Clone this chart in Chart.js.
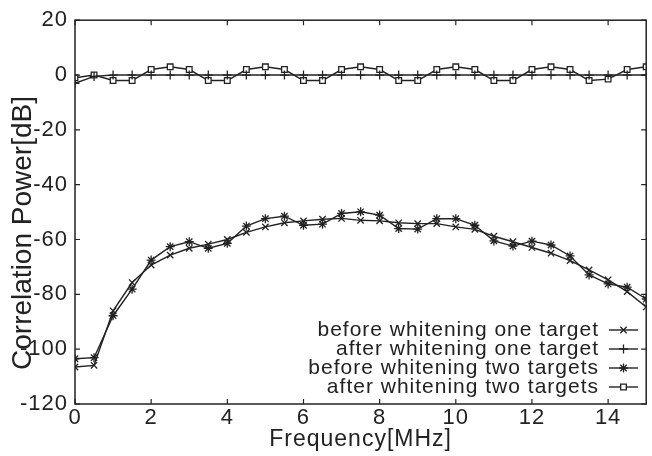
<!DOCTYPE html>
<html><head><meta charset="utf-8">
<script src="https://cdn.jsdelivr.net/npm/chart.js@4.4.1/dist/chart.umd.min.js"></script>
<style>html,body{margin:0;padding:0;background:#fff}#wrap{width:652px;height:456px}</style>
</head><body><div id="wrap"><canvas id="c" width="652" height="456"></canvas></div>
<script>
const freq = [0,0.5,1,1.5,2,2.5,3,3.5,4,4.5,5,5.5,6,6.5,7,7.5,8,8.5,9,9.5,10,10.5,11,11.5,12,12.5,13,13.5,14,14.5,15];
const beforeOne = [-106.5,-105.9,-86.0,-75.7,-69.3,-65.7,-63.2,-61.7,-60.0,-57.4,-55.4,-53.9,-53.2,-52.6,-52.3,-53.0,-53.2,-53.9,-54.2,-54.2,-55.4,-56.3,-58.8,-60.8,-62.9,-65.0,-67.7,-71.1,-74.7,-79.0,-84.6];
const afterOne = [-3,-0.5,0,0,0,0,0,0,0,0,0,0,0,0,0,0,0,0,0,0,0,0,0,0,0,0,0,0,0,0,0];
const beforeTwo = [-103.5,-103.1,-87.8,-78.1,-67.5,-62.6,-60.8,-63.2,-61.4,-55.1,-52.4,-51.5,-54.8,-54.4,-50.5,-49.9,-51.1,-56.0,-56.2,-52.4,-52.4,-54.8,-60.5,-62.4,-60.6,-62.0,-66.0,-72.9,-76.2,-77.4,-81.7];
const afterTwo = [-1,0,-2,-2,2,3,2,-2,-2,2,3,2,-2,-2,2,3,2,-2,-2,2,3,2,-2,-2,2,3,2,-2,-1.5,2,3];
const seriesLabels = ['before whitening one target','after whitening one target','before whitening two targets','after whitening two targets'];
const xTicks = [0,2,4,6,8,10,12,14];
const yTicks = [-120,-100,-80,-60,-40,-20,0,20];
const xTitle = 'Frequency[MHz]';
const yTitle = 'Correlation Power[dB]';

const FONT = '"Liberation Sans", Arial, Helvetica, sans-serif';
const INK = '#222';
const toPts = arr => arr.map((v,i)=>({x:freq[i], y:v}));
const styles = ['crossRot','cross','star','rect'];
const series = [beforeOne, afterOne, beforeTwo, afterTwo];

const datasets = series.map((s,k)=>({
  label: seriesLabels[k],
  data: toPts(s),
  borderColor: INK,
  borderWidth: 1.4,
  pointStyle: styles[k],
  pointRadius: k===3 ? 4 : 4.5,
  pointBorderColor: INK,
  pointBorderWidth: 1.3,
  pointBackgroundColor: '#fff',
  tension: 0,
  fill: false
}));

const framePlugin = {
  id: 'frame',
  beforeDraw(chart) { chart.ctx.letterSpacing = '1px'; },
  beforeDatasetsDraw(chart) { chart.ctx.letterSpacing = '0px'; },
  afterDatasetsDraw(chart) {
    const {ctx, chartArea: a, scales: {x, y}} = chart;
    ctx.save();
    ctx.strokeStyle = INK;
    ctx.lineWidth = 1.5;
    ctx.strokeRect(a.left, a.top, a.right - a.left, a.bottom - a.top);
    ctx.lineWidth = 1.2;
    const L = 5;
    ctx.beginPath();
    xTicks.forEach(v => {
      const px = x.getPixelForValue(v);
      ctx.moveTo(px, a.bottom); ctx.lineTo(px, a.bottom - L);
      ctx.moveTo(px, a.top); ctx.lineTo(px, a.top + L);
    });
    yTicks.forEach(v => {
      const py = y.getPixelForValue(v);
      ctx.moveTo(a.left, py); ctx.lineTo(a.left + L, py);
      ctx.moveTo(a.right, py); ctx.lineTo(a.right - L, py);
    });
    ctx.stroke();
    // y axis title
    ctx.save();
    ctx.translate(31, 233);
    ctx.rotate(-Math.PI / 2);
    ctx.font = '28px ' + FONT;
    ctx.textAlign = 'center';
    ctx.textBaseline = 'alphabetic';
    ctx.fillStyle = INK;
    ctx.fillText(yTitle, 0, 0);
    ctx.restore();
    // legend (inside, lower right)
    const rowY = [330, 349, 368, 387];
    const textRight = 599, l0 = 609, l1 = 638;
    ctx.font = '21px ' + FONT;
    ctx.letterSpacing = '1px';
    ctx.textAlign = 'right';
    ctx.textBaseline = 'alphabetic';
    chart.data.datasets.forEach((ds, k) => {
      const yy = rowY[k];
      ctx.fillStyle = INK;
      ctx.fillText(ds.label, textRight, yy + 5.5);
      ctx.strokeStyle = INK;
      ctx.lineWidth = 1.4;
      ctx.beginPath(); ctx.moveTo(l0, yy); ctx.lineTo(l1, yy); ctx.stroke();
      ctx.lineWidth = 1.3;
      ctx.fillStyle = '#fff';
      Chart.helpers.drawPoint(ctx, {pointStyle: ds.pointStyle, radius: ds.pointRadius, rotation: 0, borderWidth: 1.3}, (l0 + l1) / 2, yy);
    });
    ctx.restore();
  }
};

new Chart(document.getElementById('c'), {
  type: 'line',
  data: { datasets },
  options: {
    responsive: false,
    animation: false,
    devicePixelRatio: 1,
    layout: { padding: { top: 18, right: 1, left: 0, bottom: 0 } },
    plugins: { legend: { display: false }, tooltip: { enabled: false } },
    scales: {
      x: {
        type: 'linear', min: 0, max: 15,
        afterBuildTicks: s => { s.ticks = xTicks.map(v => ({value: v})); },
        afterFit: s => { s.height = 52; },
        grid: { display: false, drawTicks: false },
        border: { display: false },
        ticks: { color: INK, font: { family: FONT, size: 22 }, padding: 1, maxRotation: 0, autoSkip: false },
        title: { display: true, text: xTitle, color: INK, font: { family: FONT, size: 23 }, padding: { top: 0, bottom: 3 } }
      },
      y: {
        type: 'linear', min: -120, max: 20,
        afterBuildTicks: s => { s.ticks = yTicks.map(v => ({value: v})); },
        afterFit: s => { s.width = 75; },
        grid: { display: false, drawTicks: false },
        border: { display: false },
        ticks: { color: INK, font: { family: FONT, size: 22 }, padding: 7, autoSkip: false },
        title: { display: false }
      }
    }
  },
  plugins: [framePlugin]
});
</script></body></html>
